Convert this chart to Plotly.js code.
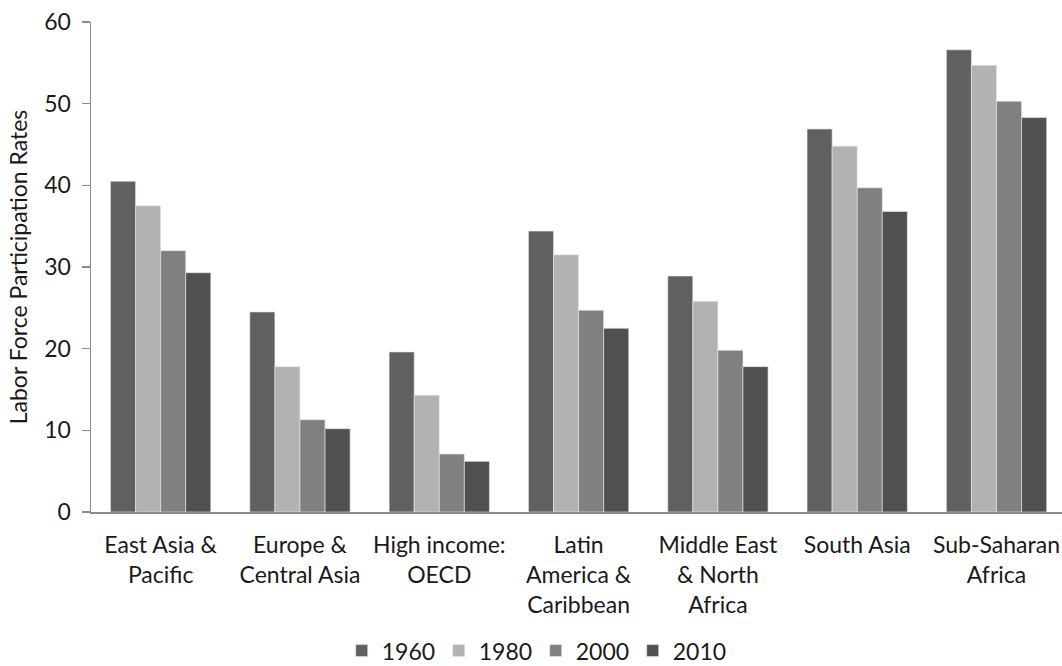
<!DOCTYPE html>
<html>
<head>
<meta charset="utf-8">
<script src="https://cdn.plot.ly/plotly-3.0.1.min.js"></script>
<style>html,body{margin:0;padding:0;background:#fff;}#chart{width:1062px;height:666px;}</style>
</head>
<body>
<div id="chart"></div>
<script>
const categories = [
  "East Asia &<br>Pacific",
  "Europe &<br>Central Asia",
  "High income:<br>OECD",
  "Latin<br>America &<br>Caribbean",
  "Middle East<br>& North<br>Africa",
  "South Asia",
  "Sub-Saharan<br>Africa"
];
const years = ["1960", "1980", "2000", "2010"];
const v1960 = [40.5, 24.5, 19.6, 34.4, 28.9, 46.9, 56.6];
const v1980 = [37.5, 17.8, 14.3, 31.5, 25.8, 44.8, 54.7];
const v2000 = [32.0, 11.3, 7.1, 24.7, 19.8, 39.7, 50.3];
const v2010 = [29.3, 10.2, 6.2, 22.5, 17.8, 36.8, 48.3];
const yTicks = [0, 10, 20, 30, 40, 50, 60];
const colors = ["#606060", "#b2b2b2", "#808080", "#505050"];
const series = [v1960, v1980, v2000, v2010];

const FONT = "Lato, 'Open Sans', sans-serif";
const TXT = "#1a1a1a";
const traces = series.map((vals, i) => ({
  type: "bar",
  name: years[i],
  x: categories,
  y: vals,
  marker: { color: colors[i], line: { color: "rgba(230,230,230,0.8)", width: 0.8 } },
  hoverinfo: "y"
}));

const layout = {
  width: 1062, height: 666,
  margin: { l: 91, r: 0, t: 22, b: 154, autoexpand: false },
  paper_bgcolor: "#fff", plot_bgcolor: "#fff",
  font: { family: FONT, color: TXT, size: 23 },
  barmode: "group",
  bargap: 0.28,
  bargroupgap: 0,
  showlegend: true,
  legend: {
    orientation: "h", x: 0.458, xanchor: "center", y: -0.283, yanchor: "middle",
    font: { family: FONT, size: 23, color: TXT },
    itemwidth: 30, entrywidth: 52, entrywidthmode: "pixels", tracegroupgap: 0
  },
  xaxis: {
    type: "category",
    range: [-0.5, 6.47],
    showline: true, linecolor: "#8c8c8c", linewidth: 1.5,
    ticks: "", showgrid: false, zeroline: false,
    tickfont: { family: FONT, size: 23, color: TXT },
    ticklabelstandoff: 12,
    automargin: false,
    fixedrange: true
  },
  yaxis: {
    range: [0, 60],
    tickvals: yTicks,
    ticktext: yTicks.map(String),
    showline: true, linecolor: "#8c8c8c", linewidth: 1.5,
    ticks: "outside", ticklen: 8, tickcolor: "#8c8c8c", tickwidth: 1.5,
    showgrid: false, zeroline: false,
    tickfont: { family: FONT, size: 23, color: TXT },
    ticklabelstandoff: 6,
    automargin: false,
    title: { text: "Labor Force Participation Rates", font: { family: FONT, size: 23, color: TXT }, standoff: 10 },
    fixedrange: true
  }
};

Plotly.newPlot("chart", traces, layout, { displayModeBar: false, staticPlot: true });
</script>
</body>
</html>
